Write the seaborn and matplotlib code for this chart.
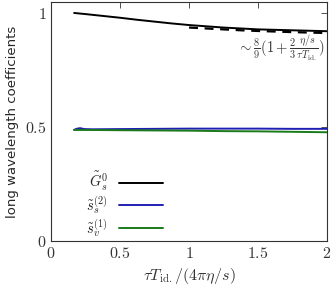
import numpy as np
import pandas as pd
import matplotlib
matplotlib.use("Agg")
import matplotlib.pyplot as plt
import seaborn as sns

# values
x_g = [0.167, 0.25, 0.375, 0.5, 0.625, 0.75, 0.875, 1.0, 1.25, 1.5, 1.75, 2.0]
g_s0 = [1.0, 0.995, 0.987, 0.979, 0.970, 0.962, 0.954, 0.947, 0.936, 0.928, 0.924, 0.920]

x_asym = [1.0, 1.125, 1.25, 1.375, 1.5, 1.75, 2.0]
asym = [0.936, 0.932, 0.928, 0.924, 0.921, 0.916, 0.912]

x_s = [0.167, 0.19, 0.21, 0.24, 0.3, 0.5, 0.75, 1.0, 1.25, 1.5, 1.75, 2.0]
s_s2 = [0.488, 0.493, 0.495, 0.491, 0.490, 0.491, 0.492, 0.493, 0.493, 0.493, 0.492, 0.492]
s_v1 = [0.487, 0.487, 0.487, 0.487, 0.487, 0.486, 0.485, 0.484, 0.482, 0.481, 0.479, 0.477]

sns.set_style("white")
plt.rcParams["mathtext.fontset"] = "cm"
plt.rcParams["font.family"] = ["DejaVu Sans"]

fig, ax = plt.subplots(figsize=(3.32, 2.87), dpi=100)
fig.subplots_adjust(left=0.154, right=0.985, bottom=0.16, top=0.993)

sns.lineplot(x=x_g, y=g_s0, ax=ax, color="black", lw=1.4,
             label=r"$\tilde{G}_s^0$")
sns.lineplot(x=x_s, y=s_s2, ax=ax, color="#1f1fb4", lw=1.4,
             label=r"$\tilde{s}_s^{(2)}$")
sns.lineplot(x=x_s, y=s_v1, ax=ax, color="#1a7a1a", lw=1.4,
             label=r"$\tilde{s}_v^{(1)}$")
ax.plot(x_asym, asym, color="black", lw=1.6, ls=(0, (4, 3)))

ax.text(1.985, 0.845,
        r"$\sim\frac{8}{9}(1+\frac{2}{3}\frac{\eta/s}{\tau T_{\rm id.}})$",
        ha="right", va="center", fontsize=10.5, color="#333333")

ax.set_xlim(0, 2)
ax.set_ylim(0, 1.048)
ax.set_xticks([0, 0.5, 1, 1.5, 2])
ax.set_xticklabels([r"$0$", r"$0.5$", r"$1$", r"$1.5$", r"$2$"])
ax.set_yticks([0, 0.5, 1])
ax.set_yticklabels([r"$0$", r"$0.5$", r"$1$"])
ax.tick_params(direction="in", length=4, width=0.6, labelsize=11.5,
               top=True, right=True, colors="#333333", labelcolor="#333333")
ax.set_xlabel(r"$\tau T_{\rm id.}/(4\pi\eta/s)$", fontsize=11.5, color="#333333")
ax.set_ylabel("long wavelength coefficients", fontsize=9.5)
for sp in ax.spines.values():
    sp.set_color("#333333")
    sp.set_linewidth(0.8)

ax.legend(loc="lower right", bbox_to_anchor=(0.405, 0.01), frameon=False,
          markerfirst=False, fontsize=10.5, handlelength=3.0,
          labelspacing=0.05, handletextpad=0.8,
          borderpad=0, borderaxespad=0)

fig.savefig("out.png", dpi=100)
